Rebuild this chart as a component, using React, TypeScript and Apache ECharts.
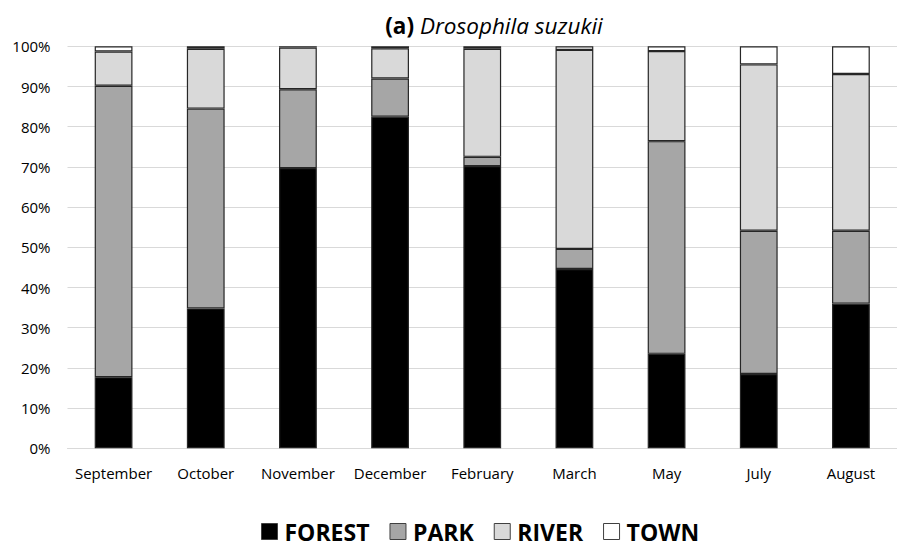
import React, { useEffect, useRef } from "react";
import * as echarts from "echarts";

const categories = ["September", "October", "November", "December", "February", "March", "May", "July", "August"];
const forest = [17.7, 34.8, 69.7, 82.5, 70.2, 44.6, 23.5, 18.5, 36.0];
const park = [72.5, 49.7, 19.6, 9.5, 2.3, 5.0, 52.9, 35.6, 18.1];
const river = [8.5, 14.9, 10.4, 7.5, 26.9, 49.5, 22.4, 41.4, 39.0];
const town = [1.3, 0.6, 0.3, 0.5, 0.6, 0.9, 1.2, 4.5, 6.9];
const seriesNames = ["FOREST", "PARK", "RIVER", "TOWN"];
const seriesColors = ["#000000", "#a6a6a6", "#d9d9d9", "#ffffff"];

const FONT = "'Open Sans', sans-serif";

export default function App() {
  const ref = useRef<HTMLDivElement>(null);
  useEffect(() => {
    if (!ref.current) return;
    const chart = echarts.init(ref.current, undefined, { renderer: "svg" });
    const dataSets = [forest, park, river, town];
    chart.setOption({
      animation: false,
      backgroundColor: "#ffffff",
      title: {
        text: "{b|(a) }{i|Drosophila suzukii}",
        left: 489,
        textAlign: "center",
        top: 9,
        textStyle: {
          fontWeight: "normal",
          rich: {
            b: { fontFamily: FONT, fontSize: 22.5, fontWeight: "bold", color: "#000" },
            i: { fontFamily: FONT, fontSize: 22.5, fontStyle: "italic", fontWeight: "normal", color: "#000" },
          },
        },
      },
      legend: {
        top: 515,
        left: 256,
        icon: "rect",
        itemWidth: 16,
        itemHeight: 16,
        itemGap: 20,
        itemStyle: { borderWidth: 1, borderColor: "#404040" },
        textStyle: { fontFamily: FONT, fontSize: 23, fontWeight: "bold", color: "#000", padding: [0, 0, 0, 2] },
        data: seriesNames,
      },
      grid: { left: 67.5, top: 46.3, width: 836, height: 402, containLabel: false },
      xAxis: {
        type: "category",
        data: categories,
        axisLine: { show: true, lineStyle: { color: "#d9d9d9", width: 1 } },
        axisTick: { show: false },
        axisLabel: { fontFamily: FONT, fontSize: 15, color: "#000", margin: 17, interval: 0 },
      },
      yAxis: {
        type: "value",
        min: 0,
        max: 100,
        interval: 10,
        axisLine: { show: false },
        axisTick: { show: false },
        splitLine: { lineStyle: { color: "#d9d9d9", width: 1 } },
        axisLabel: { fontFamily: FONT, fontSize: 15, color: "#000", margin: 17, formatter: "{value}%" },
      },
      series: seriesNames.map((name, i) => ({
        name,
        type: "bar",
        stack: "total",
        barWidth: "41%",
        data: dataSets[i],
        itemStyle: { color: seriesColors[i], borderColor: "#262626", borderWidth: 1.2 },
      })),
    });
    return () => chart.dispose();
  }, []);
  return <div ref={ref} style={{ width: 897, height: 549, position: "absolute", left: 0, top: 0 }} />;
}
